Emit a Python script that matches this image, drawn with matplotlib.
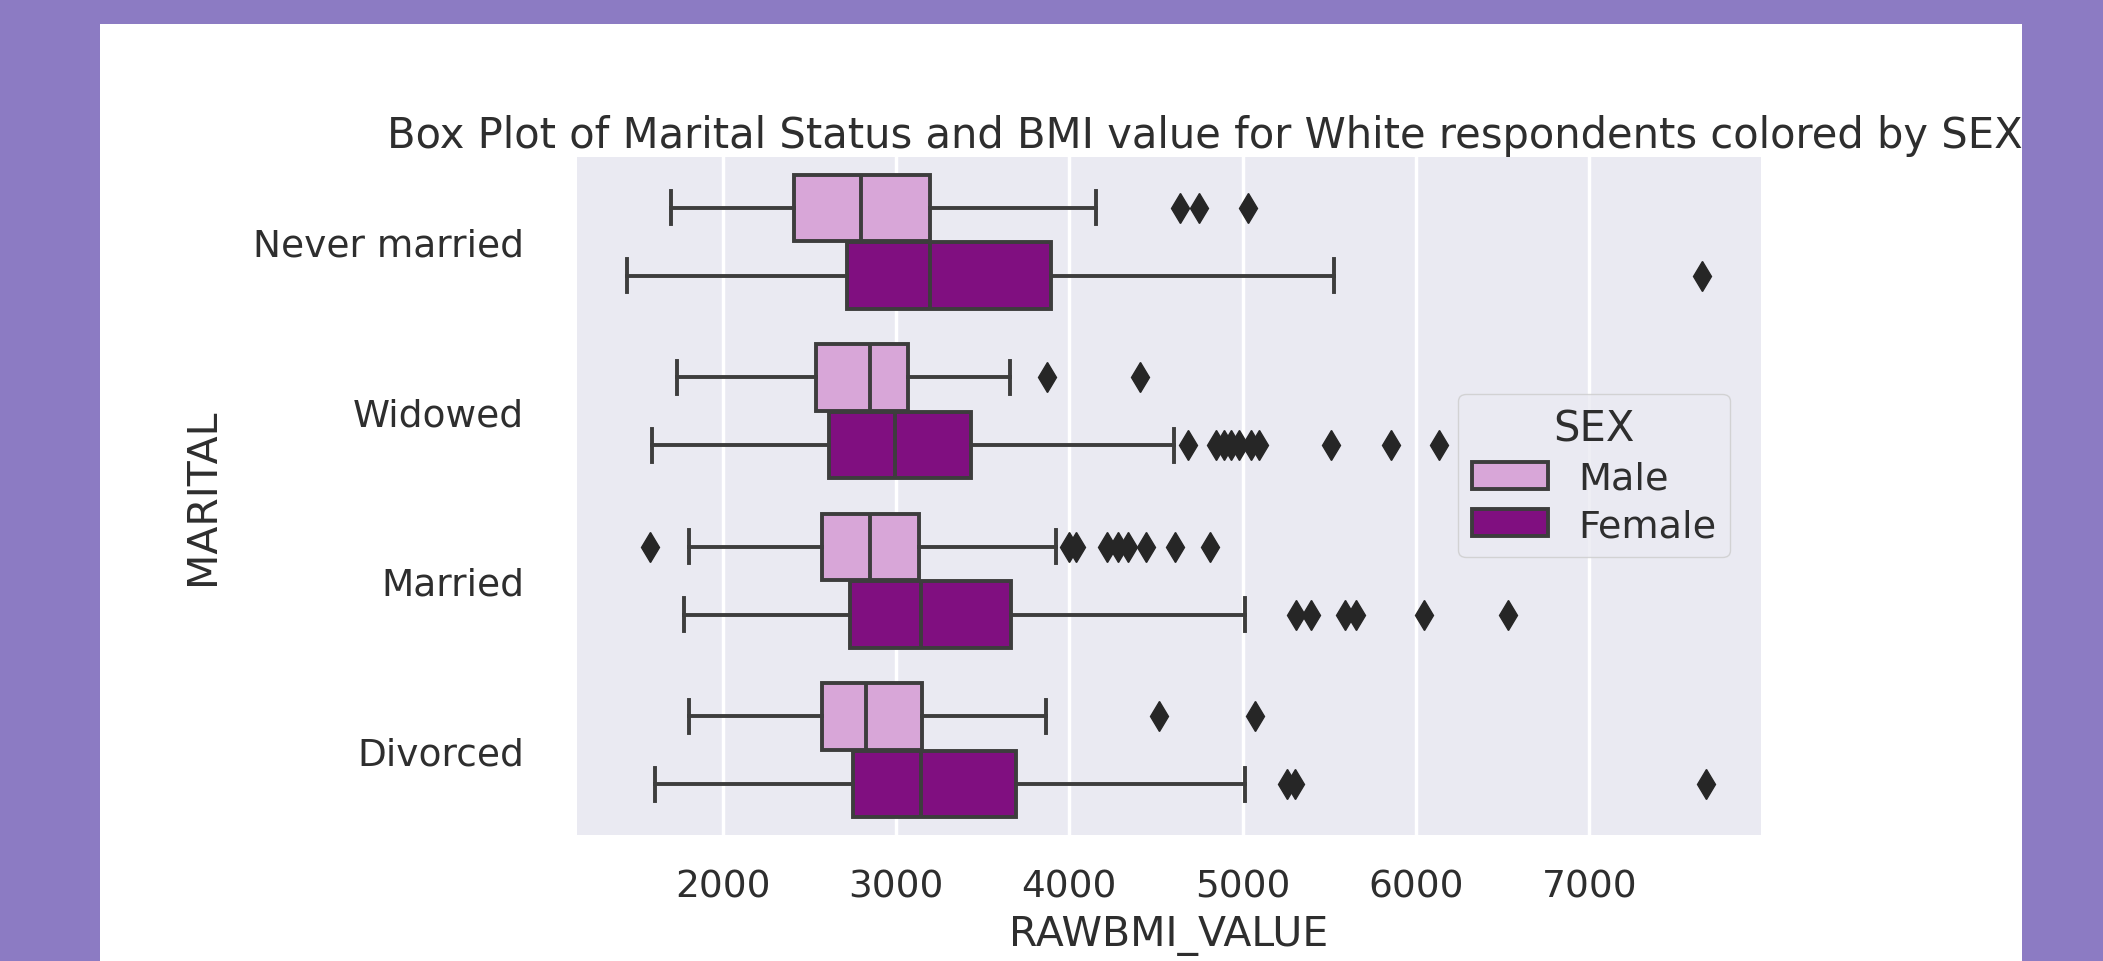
import numpy as np
import matplotlib
matplotlib.use("Agg")
import matplotlib.pyplot as plt
from matplotlib.patches import Patch, Rectangle

# box plot stats (RAWBMI_VALUE)
categories = ["Never married", "Widowed", "Married", "Divorced"]
sexes = ["Male", "Female"]

male_whislo = [1700, 1735, 1805, 1805]
male_q1 = [2410, 2540, 2575, 2575]
male_med = [2800, 2850, 2850, 2830]
male_q3 = [3195, 3070, 3135, 3150]
male_whishi = [4155, 3660, 3925, 3865]
male_fliers = [[4640, 4750, 5030],
               [3870, 4410],
               [1580, 4000, 4040, 4220, 4280, 4340, 4440, 4610, 4810],
               [4520, 5070]]

female_whislo = [1450, 1595, 1780, 1610]
female_q1 = [2720, 2615, 2735, 2755]
female_med = [3195, 2995, 3145, 3145]
female_q3 = [3895, 3435, 3665, 3690]
female_whishi = [5525, 4605, 5015, 5015]
female_fliers = [[7650],
                 [4685, 4845, 4890, 4935, 4980, 5050, 5095, 5510, 5855, 6130],
                 [5310, 5395, 5590, 5655, 6045, 6530],
                 [5255, 5300, 7675]]

xticks = [2000, 3000, 4000, 5000, 6000, 7000]

colors = ["#d8a6d8", "#800f80"]
line_c = "#3d3d3d"
text_c = "#2e2e2e"

W, H = 2103, 962
fig = plt.figure(figsize=(W / 100, H / 100), dpi=100, facecolor="#8c7bc3")
fig.patches.append(Rectangle((100 / W, 0), (2022 - 100) / W, (H - 25) / H,
                             transform=fig.transFigure, facecolor="white",
                             edgecolor="none", zorder=-10))

top, bottom = 158, 836
ax = fig.add_axes([577 / W, 1 - bottom / H, (1761 - 577) / W, (bottom - top) / H])
ax.set_facecolor("#eaeaf2")
for s in ax.spines.values():
    s.set_visible(False)
ax.grid(axis="x", color="white", lw=2.5)
ax.set_axisbelow(True)


def stats(lo, q1, med, q3, hi, fl):
    out = []
    for i in range(len(lo)):
        out.append(dict(whislo=lo[i], q1=q1[i], med=med[i], q3=q3[i],
                        whishi=hi[i], fliers=fl[i]))
    return out


groups = [stats(male_whislo, male_q1, male_med, male_q3, male_whishi, male_fliers),
          stats(female_whislo, female_q1, female_med, female_q3, female_whishi, female_fliers)]

lw = 2.8
pos = np.arange(len(categories))
for j, st in enumerate(groups):
    offs = -0.2 if j == 0 else 0.2
    ax.bxp(st, positions=pos + offs, widths=0.392, orientation="horizontal",
           patch_artist=True, manage_ticks=False,
           boxprops=dict(facecolor=colors[j], edgecolor=line_c, lw=lw),
           whiskerprops=dict(color=line_c, lw=lw),
           capprops=dict(color=line_c, lw=lw),
           medianprops=dict(color=line_c, lw=lw),
           flierprops=dict(marker="d", markerfacecolor="#262626",
                           markeredgecolor="#262626", markersize=15))

ax.set_ylim(3.5, -0.5)
ax.set_xlim(1160, 7990)
ax.set_yticks(pos)
ax.set_yticklabels(categories)
ax.set_xticks(xticks)
ax.tick_params(axis="both", length=0, labelsize=27, labelcolor=text_c)
ax.tick_params(axis="y", pad=38)
ax.tick_params(axis="x", pad=24)

ax.set_xlabel("RAWBMI_VALUE", fontsize=29.5, color=text_c, labelpad=8)
ax.set_ylabel("MARITAL", fontsize=29.5, color=text_c, labelpad=22)
ax.set_title("Box Plot of Marital Status and BMI value for White respondents colored by SEX",
             fontsize=30, color=text_c, pad=7, x=0.53)

handles = [Patch(facecolor=colors[k], edgecolor=line_c, lw=lw, label=sexes[k])
           for k in range(2)]
leg = ax.legend(handles=handles, title="SEX", loc="center right",
                bbox_to_anchor=(0.99, 0.53), fontsize=27.5, title_fontsize=30,
                facecolor="#eaeaf2", edgecolor="#cccccc", labelcolor=text_c,
                borderpad=0.35, labelspacing=0.3, handletextpad=0.8)
leg.get_title().set_color(text_c)

fig.savefig("out.png", dpi=100, facecolor=fig.get_facecolor())
